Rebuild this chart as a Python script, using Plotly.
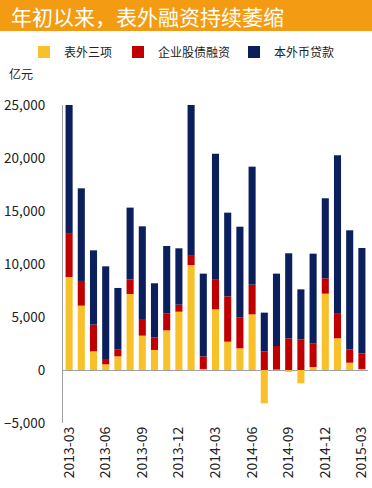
import plotly.graph_objects as go

months = ["2013-03", "2013-04", "2013-05", "2013-06", "2013-07", "2013-08", "2013-09",
          "2013-10", "2013-11", "2013-12", "2014-01", "2014-02", "2014-03", "2014-04",
          "2014-05", "2014-06", "2014-07", "2014-08", "2014-09", "2014-10", "2014-11",
          "2014-12", "2015-01", "2015-02", "2015-03"]
tick_labels = ["2013-03", "2013-06", "2013-09", "2013-12", "2014-03", "2014-06",
               "2014-09", "2014-12", "2015-03"]

offbalance = [8775, 6070, 1760, 535, 1290, 7170, 3240, 1890, 3740, 5500, 9900, 100, 5720,
              2670, 2045, 5250, -3145, 50, -100, -1260, 285, 7200, 2990, 690, 100]
corp_fin = [4085, 2330, 2520, 505, 630, 1380, 1570, 1190, 1610, 665, 890, 1190, 2800,
            4280, 2895, 2800, 1760, 2215, 2990, 2895, 2200, 1450, 2325, 1260, 1470]
loans = [12140, 8740, 7010, 8740, 5820, 6770, 8745, 5100, 6350, 5315, 14300, 7800, 11890,
         7895, 8580, 11135, 3650, 6825, 8020, 4715, 8490, 7550, 14935, 11230, 9940]

names = ["表外三项", "企业股债融资", "本外币贷款"]
colors = ["#F8C12A", "#C00000", "#0B1F5C"]
legend_ids = ["legend", "legend2", "legend3"]
legend_x = [24, 118, 234]

font = "Noto Sans CJK SC"
L, R, T, B = 63, 4, 105, 65
W_PLOT = 372 - L - R
H_PLOT = 488 - T - B
fig = go.Figure()
for name, vals, c, lg in zip(names, [offbalance, corp_fin, loans], colors, legend_ids):
    fig.add_trace(go.Bar(x=months, y=vals, name=name, marker_color=c,
                         marker_line_width=0, legend=lg))

legend_common = dict(orientation="h", xanchor="left", xref="container",
                     y=1.0 - 52 / 488, yanchor="middle", yref="container",
                     font=dict(size=12, color="#222", family=font),
                     itemwidth=30, bgcolor="rgba(0,0,0,0)")
legends = {lg: dict(legend_common, x=lx / 372) for lg, lx in zip(legend_ids, legend_x)}

fig.update_layout(
    width=372, height=488,
    barmode="relative", bargap=0.42,
    paper_bgcolor="white", plot_bgcolor="white",
    margin=dict(l=L, r=R, t=T, b=B, autoexpand=False),
    font=dict(family=font, size=12, color="#222"),
    separators=".,",
    showlegend=True,
    **legends,
    shapes=[dict(type="rect", xref="paper", yref="paper", x0=-L / W_PLOT, x1=1.0 + R / W_PLOT,
                 y0=1.0 + (T - 31) / H_PLOT, y1=1.0 + T / H_PLOT,
                 fillcolor="#F39B12", line_width=0, layer="below")],
    annotations=[
        dict(text="年初以来，表外融资持续萎缩", xref="paper", yref="paper",
             x=-(L - 9) / W_PLOT, y=1.0 + (T - 16) / H_PLOT, xanchor="left", yanchor="middle",
             showarrow=False, font=dict(size=21, color="white", family=font)),
        dict(text="亿元", xref="paper", yref="paper", x=-(L - 7) / W_PLOT,
             y=1.0 + (T - 73) / H_PLOT,
             xanchor="left", yanchor="middle", showarrow=False,
             font=dict(size=12, color="#222", family=font)),
    ],
)
fig.update_xaxes(type="category", tickmode="array", tickvals=tick_labels,
                 ticktext=tick_labels, tickangle=-90, showgrid=False, showline=False,
                 ticks="", automargin=False, tickfont=dict(size=14, color="#222"))
fig.update_yaxes(range=[-5000, 25000], tickvals=[-5000, 0, 5000, 10000, 15000, 20000, 25000],
                 tickformat=",", showgrid=False, showline=True, linecolor="#A0A0A0",
                 linewidth=1, zeroline=True, zerolinecolor="#A0A0A0", zerolinewidth=1,
                 ticks="", ticklabelstandoff=14, automargin=False,
                 tickfont=dict(size=13.5, color="#222"))

fig.write_html("out.html", config={"displayModeBar": False},
               post_script="document.body.style.margin='0';")
